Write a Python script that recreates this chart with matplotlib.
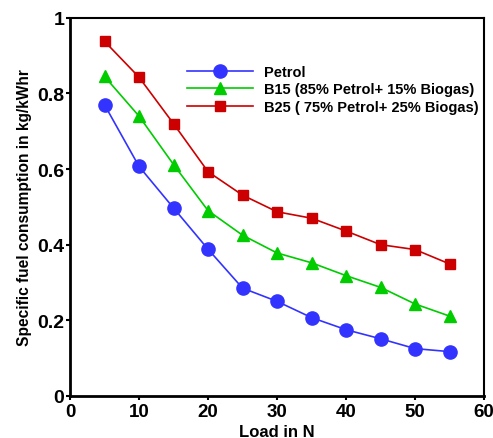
import numpy as np
import matplotlib
matplotlib.use('Agg')
import matplotlib.pyplot as plt

plt.rcParams['font.family'] = ['Liberation Sans', 'DejaVu Sans']
plt.rcParams['font.weight'] = 'bold'

# Нагрузка и удельный расход топлива
load = [5, 10, 15, 20, 25, 30, 35, 40, 45, 50, 55]
petrol = [0.770, 0.607, 0.497, 0.388, 0.285, 0.250, 0.207, 0.175, 0.151, 0.125, 0.117]
b15 = [0.845, 0.740, 0.612, 0.490, 0.425, 0.378, 0.352, 0.318, 0.287, 0.243, 0.211]
b25 = [0.938, 0.843, 0.720, 0.593, 0.531, 0.487, 0.470, 0.436, 0.400, 0.387, 0.349]

x_ticks = [0, 10, 20, 30, 40, 50, 60]
y_ticks = [0, 0.2, 0.4, 0.6, 0.8, 1]
y_tick_labels = ['0', '0.2', '0.4', '0.6', '0.8', '1']

fig = plt.figure(figsize=(4.93, 4.39), dpi=100)
ax = fig.add_axes([0.142, 0.096, 0.84, 0.861])

ax.plot(load, petrol, color='#3333ff', marker='o', markersize=9.5, linewidth=1.2,
        label='Petrol')
ax.plot(load, b15, color='#00cc00', marker='^', markersize=8.5, linewidth=1.2,
        label='B15 (85% Petrol+ 15% Biogas)')
ax.plot(load, b25, color='#cc0000', marker='s', markersize=7.5, linewidth=1.2,
        label='B25 ( 75% Petrol+ 25% Biogas)')

ax.set_xlim(0, 60)
ax.set_ylim(0, 1)
ax.set_xticks(x_ticks)
ax.set_yticks(y_ticks)
ax.set_yticklabels(y_tick_labels)
ax.tick_params(axis='x', labelsize=13.5, width=1.5, length=3, pad=2)
ax.tick_params(axis='y', labelsize=14, width=1.5, length=3, pad=1)
for lbl in ax.get_xticklabels() + ax.get_yticklabels():
    lbl.set_fontweight('bold')

for side in ['left', 'bottom']:
    ax.spines[side].set_linewidth(2)
for side in ['top', 'right']:
    ax.spines[side].set_linewidth(1.5)

ax.set_xlabel('Load in N', fontsize=12, fontweight='bold', labelpad=3)
ax.set_ylabel('Specific fuel consumption in kg/kWhr', fontsize=11.2, fontweight='bold',
              labelpad=4)

ax.legend(loc='upper left', bbox_to_anchor=(0.283, 0.876), frameon=False,
          prop={'size': 10.5, 'weight': 'bold'}, handlelength=4.5, labelspacing=0.25,
          handletextpad=0.75, borderaxespad=0, borderpad=0)

fig.savefig('out.png', dpi=100)
